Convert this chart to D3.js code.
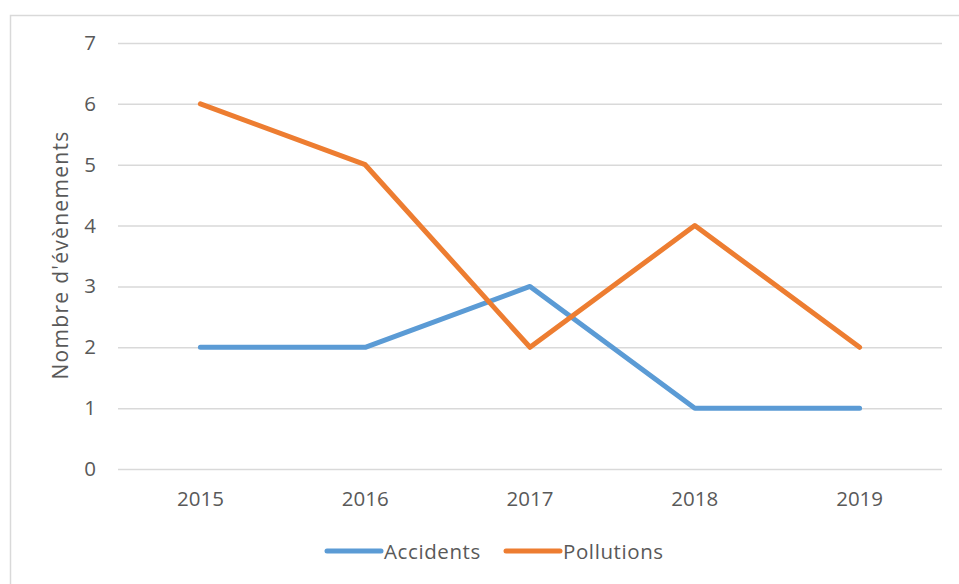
<!DOCTYPE html>
<html>
<head>
<meta charset="utf-8">
<script src="https://cdn.jsdelivr.net/npm/d3@7"></script>
<style>
  html, body { margin: 0; padding: 0; background: #fff; }
  svg { display: block; }
  text { font-family: "Open Sans", Lato, sans-serif; fill: #595959; }
</style>
</head>
<body>
<svg id="chart" width="959" height="584"></svg>
<script>
// Yearly counts of recorded events
const years = ["2015", "2016", "2017", "2018", "2019"];
const accidents = [2, 2, 3, 1, 1];
const pollutions = [6, 5, 2, 4, 2];
const yTicks = [0, 1, 2, 3, 4, 5, 6, 7];
const seriesNames = ["Accidents", "Pollutions"];
const seriesColors = ["#5b9bd5", "#ed7d31"];

const svg = d3.select("#chart");
const W = 959, H = 584;

// Outer chart frame
svg.append("rect")
  .attr("x", 10.5).attr("y", 15.5)
  .attr("width", W + 10).attr("height", H + 10)
  .attr("fill", "#fff").attr("stroke", "#d9d9d9").attr("stroke-width", 1.5);

const plot = { left: 118, right: 942, top: 43, bottom: 469 };

const x = d3.scaleBand().domain(years).range([plot.left, plot.right]);
const y = d3.scaleLinear().domain([0, 7]).range([plot.bottom, plot.top]);

// Horizontal gridlines with value labels
const yAxis = d3.axisLeft(y).tickValues(yTicks).tickSize(-(plot.right - plot.left)).tickPadding(22).tickFormat(d3.format("d"));
const gy = svg.append("g").attr("transform", `translate(${plot.left},0)`).call(yAxis);
gy.select(".domain").remove();
gy.selectAll(".tick line").attr("stroke", "#d9d9d9").attr("stroke-width", 1.5);
gy.selectAll(".tick text").style("font-size", "20.5px").style("font-family", "'Open Sans', sans-serif").attr("fill", "#595959");

// Category labels
const xAxis = d3.axisBottom(x).tickSize(0).tickPadding(22);
const gx = svg.append("g").attr("transform", `translate(0,${plot.bottom})`).call(xAxis);
gx.select(".domain").remove();
gx.selectAll(".tick text").style("font-size", "20.5px").style("font-family", "'Open Sans', sans-serif").attr("fill", "#595959");

// Y axis title
svg.append("text")
  .attr("transform", `translate(68,255) rotate(-90)`)
  .attr("text-anchor", "middle")
  .style("font-size", "21px")
  .style("letter-spacing", "1.3px")
  .text("Nombre d'évènements");

// Series lines
const line = d3.line()
  .x((d, i) => x(years[i]) + x.bandwidth() / 2)
  .y(d => y(d));

[accidents, pollutions].forEach((vals, k) => {
  svg.append("path")
    .datum(vals)
    .attr("d", line)
    .attr("fill", "none")
    .attr("stroke", seriesColors[k])
    .attr("stroke-width", 5)
    .attr("stroke-linejoin", "round")
    .attr("stroke-linecap", "round");
});

// Legend
const legendItems = [
  { name: seriesNames[0], color: seriesColors[0], x0: 327 },
  { name: seriesNames[1], color: seriesColors[1], x0: 506 }
];
const ly = 551;
legendItems.forEach(it => {
  svg.append("line")
    .attr("x1", it.x0).attr("x2", it.x0 + 54)
    .attr("y1", ly).attr("y2", ly)
    .attr("stroke", it.color).attr("stroke-width", 5).attr("stroke-linecap", "round");
  svg.append("text")
    .attr("x", it.x0 + 57).attr("y", ly + 8)
    .style("font-size", "20.5px")
    .style("letter-spacing", "0.6px")
    .text(it.name);
});
</script>
</body>
</html>
